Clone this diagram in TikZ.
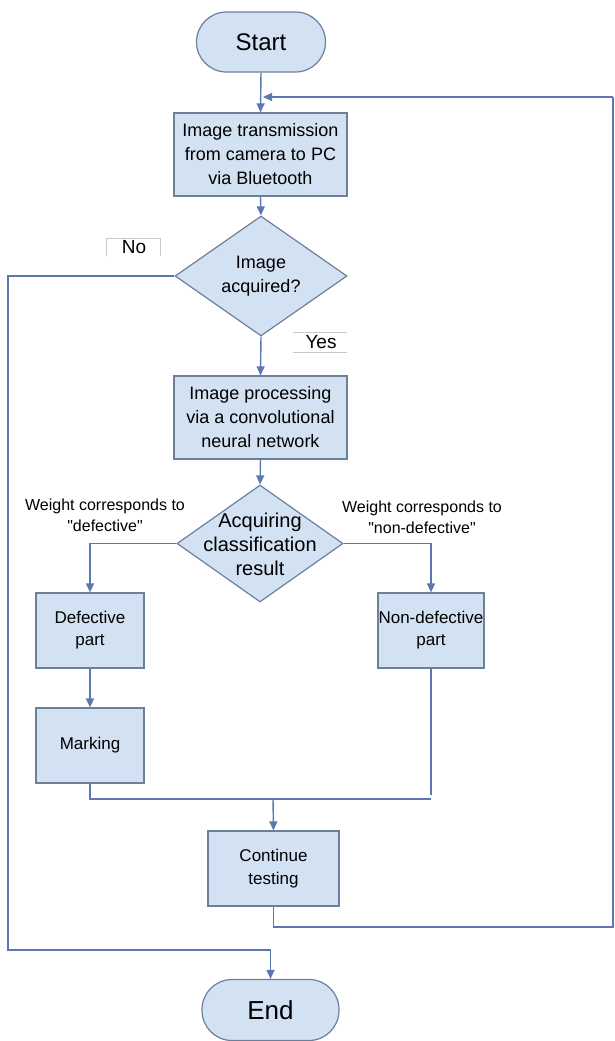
\documentclass[tikz,border=0pt]{standalone}
\usepackage{fontspec}
\setmainfont{Liberation Sans}
\usetikzlibrary{shapes.geometric,arrows.meta}
\definecolor{boxfill}{HTML}{D3E2F3}
\definecolor{boxline}{HTML}{6E7F9C}
\definecolor{conn}{HTML}{5B78B2}
\definecolor{lblline}{HTML}{C8C8C8}
\tikzset{
  procbox/.style={draw=boxline, fill=boxfill, line width=1.2pt, inner sep=0pt, align=center, font=\fontsize{18}{24}\selectfont},
  termbox/.style={draw=boxline, fill=boxfill, line width=1.2pt, rounded corners=30pt, inner sep=0pt, align=center},
  decbox/.style={draw=boxline, fill=boxfill, line width=1.2pt, diamond, inner sep=0pt},
  dectext/.style={align=center, inner sep=0pt},
  conline/.style={draw=conn, line width=1.4pt},
  conarrow/.style={conline, -{Triangle[length=9pt,width=8pt]}},
  lbl/.style={align=center, font=\fontsize{16}{21}\selectfont},
}
\begin{document}
\begin{tikzpicture}[x=1pt,y=-1pt]
\useasboundingbox[fill=white] (0,0) rectangle (615,1041);
% terminals
\node[termbox, minimum width=129pt, minimum height=60pt, font=\fontsize{24}{26}\selectfont] (start) at (261,42) {Start};
\node[termbox, minimum width=137pt, minimum height=61pt, font=\fontsize{26}{28}\selectfont] (end) at (270.5,1010) {End};
% process boxes
\node[procbox, minimum width=173pt, minimum height=83pt] (tx) at (260.5,154.5) {Image transmission\\from camera to PC\\via Bluetooth};
\node[procbox, minimum width=173pt, minimum height=83pt] (proc) at (260.5,417.5) {Image processing\\via a convolutional\\neural network};
\node[procbox, minimum width=108pt, minimum height=75pt, font=\fontsize{17}{22}\selectfont] (def) at (90,630.5) {Defective\\part};
\node[procbox, minimum width=106pt, minimum height=75pt, font=\fontsize{17}{22}\selectfont] (ndef) at (431,630.5) {Non-defective\\part};
\node[procbox, minimum width=108pt, minimum height=75pt, font=\fontsize{17}{22}\selectfont] (mark) at (90,745.5) {Marking};
\node[procbox, minimum width=131pt, minimum height=75pt, font=\fontsize{17}{23}\selectfont] (cont) at (273.5,868.5) {Continue\\testing};
% decisions
\node[decbox, minimum width=172pt, minimum height=120pt] (acq) at (261,276) {};
\node[dectext, font=\fontsize{18}{24}\selectfont] (acqt) at (acq.center) {Image\\acquired?};
\node[decbox, minimum width=166pt, minimum height=117pt] (cls) at (260,543.5) {};
\node[dectext, font=\fontsize{20}{24}\selectfont] (clst) at ([yshift=-1pt]cls.center) {Acquiring\\classification\\result};
% labels
\node[font=\fontsize{19}{22}\selectfont] (no) at (134,247) {No};
\draw[lblline, line width=0.6pt] (106,256) -- (106,238) -- (160,238) -- (160,256);
\node[font=\fontsize{19}{22}\selectfont] (yes) at (321,342) {Yes};
\draw[lblline, line width=0.6pt] (293,332) -- (347,332);
\draw[lblline, line width=0.6pt] (293,352) -- (347,352);
\node[lbl] (ldef) at (105,515) {Weight corresponds to\\\textquotedbl defective\textquotedbl};
\node[lbl] (lndef) at (422,517) {Weight corresponds to\\\textquotedbl non-defective\textquotedbl};
% connectors
\coordinate (rtop) at (613,97);
\coordinate (rbot) at (613,927);
\coordinate (merge) at (273,799);
\draw[conarrow] (start.south) -- (tx.north);
\draw[conarrow] (rtop) -- (263,97) coordinate (loopend);
\draw[conline] (cont.south) |- (rbot) -- (rtop);
\draw[conarrow] (tx.south) -- (acq.north);
\draw[conarrow] (acq.south) -- (proc.north);
\draw[conarrow] (acq.west) -| (8,950) -| (end.north);
\draw[conarrow] (proc.south) -- (cls.north);
\draw[conarrow] (cls.west) -| (def.north);
\draw[conarrow] (cls.east) -| (ndef.north);
\draw[conarrow] (def.south) -- (mark.north);
\draw[conline] (mark.south) |- (ndef.south |- merge);
\draw[conline] (ndef.south) -- ([yshift=4pt]ndef.south |- merge);
\draw[conarrow] (merge) -- (cont.north);
\end{tikzpicture}
\end{document}
